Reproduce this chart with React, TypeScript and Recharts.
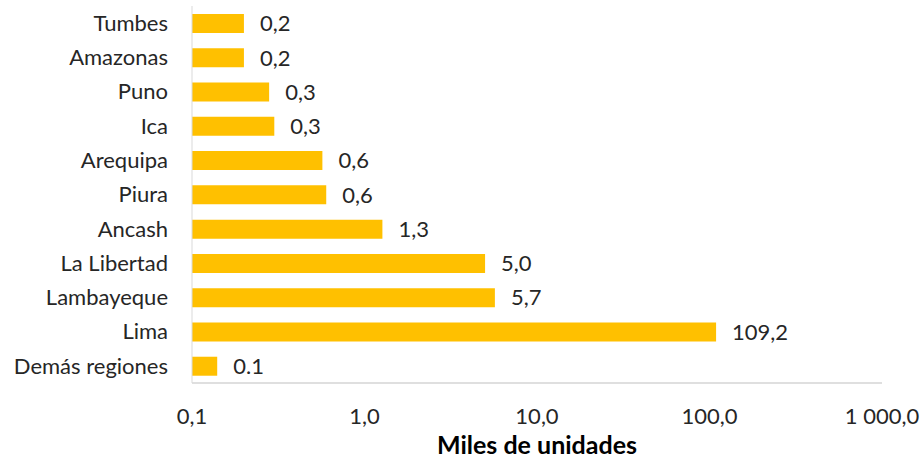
import { BarChart, Bar, XAxis, YAxis, LabelList } from "recharts";

const regiones = [
  "Tumbes", "Amazonas", "Puno", "Ica", "Arequipa", "Piura",
  "Ancash", "La Libertad", "Lambayeque", "Lima ", "Demás regiones",
];
const valores = [0.2, 0.2, 0.28, 0.3, 0.57, 0.6, 1.27, 5.0, 5.7, 109.2, 0.14];
const etiquetas = ["0,2", "0,2", "0,3", "0,3", "0,6", "0,6", "1,3", "5,0", "5,7", "109,2", "0.1"];
const ticksX = [0.1, 1, 10, 100, 1000];
const ticksXTexto = ["0,1", "1,0", "10,0", "100,0", "1 000,0"];

const datos = regiones.map((r, i) => ({ region: r, valor: valores[i], etiqueta: etiquetas[i] }));

const fuente = "Lato, 'Open Sans', sans-serif";
const colorTexto = "#262626";

export default function App() {
  return (
    <div style={{ position: "absolute", left: 0, top: 0, fontFamily: fuente }}>
      <BarChart
        width={920}
        height={459}
        data={datos}
        layout="vertical"
        margin={{ top: 6, right: 38, bottom: 0, left: 0 }}
      >
        <XAxis
          type="number"
          scale="log"
          domain={[0.1, 1000]}
          ticks={ticksX}
          allowDataOverflow
          interval={0}
          height={76}
          tickLine={false}
          tickMargin={19}
          axisLine={{ stroke: "#bfbfbf" }}
          tick={{ fontSize: 22, fill: colorTexto, fontFamily: fuente }}
          tickFormatter={(v: number) => ticksXTexto[ticksX.indexOf(v)] ?? String(v)}
          label={{
            value: "Miles de unidades",
            position: "insideBottom",
            offset: 5,
            style: { fontSize: 25, fontWeight: 700, fill: "#000", fontFamily: fuente },
          }}
        />
        <YAxis
          type="category"
          dataKey="region"
          width={192}
          interval={0}
          tickLine={false}
          tickMargin={18}
          axisLine={{ stroke: "#d9d9d9" }}
          tick={{ fontSize: 22, fill: colorTexto, fontFamily: fuente }}
        />
        <Bar dataKey="valor" fill="#FFC000" barSize={19} isAnimationActive={false}>
          <LabelList
            dataKey="etiqueta"
            position="right"
            offset={16}
            style={{ fontSize: 22, fill: colorTexto, fontFamily: fuente }}
          />
        </Bar>
      </BarChart>
    </div>
  );
}
